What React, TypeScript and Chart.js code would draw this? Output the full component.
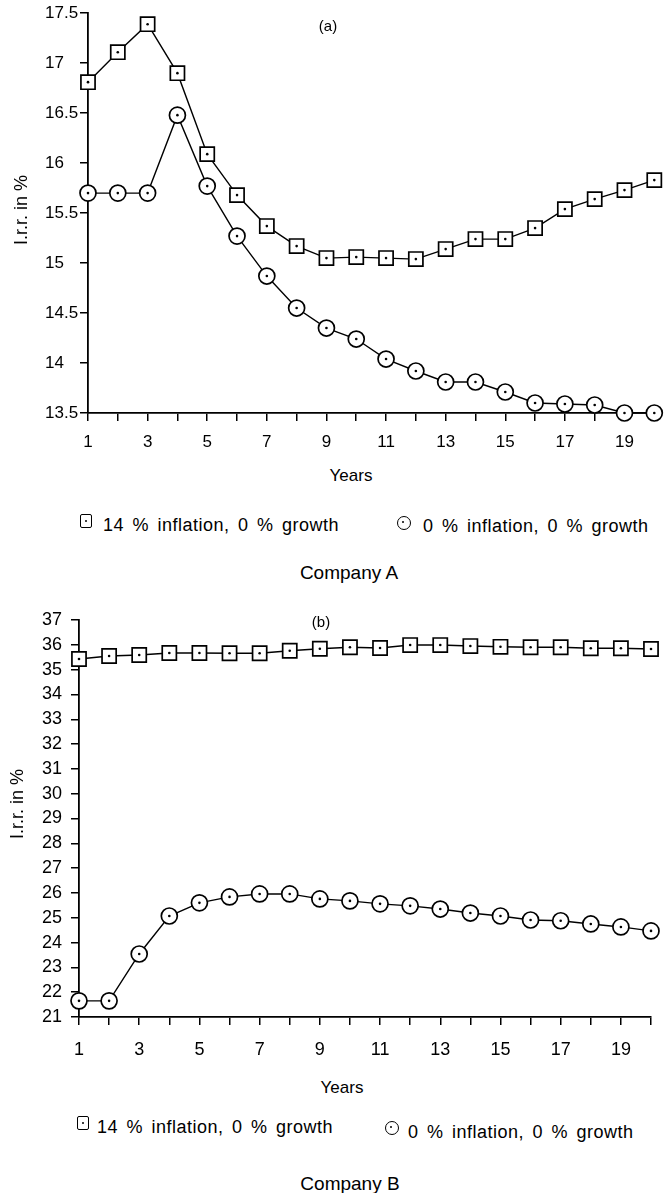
import React, { useEffect, useRef } from 'react';
import { Chart, registerables } from 'chart.js';

Chart.register(...registerables);

// ---------- data ----------
const years = [1, 2, 3, 4, 5, 6, 7, 8, 9, 10, 11, 12, 13, 14, 15, 16, 17, 18, 19, 20];
const xTickLabels = [1, 3, 5, 7, 9, 11, 13, 15, 17, 19];

// Company A (panel a)
const aInflation14 = [16.81, 17.11, 17.39, 16.9, 16.09, 15.68, 15.37, 15.17, 15.05, 15.06, 15.05, 15.04, 15.14, 15.24, 15.24, 15.35, 15.54, 15.64, 15.73, 15.83];
const aInflation0 = [15.7, 15.7, 15.7, 16.48, 15.77, 15.27, 14.87, 14.55, 14.35, 14.24, 14.04, 13.92, 13.81, 13.81, 13.71, 13.6, 13.59, 13.58, 13.5, 13.5];
const yTicksA = [13.5, 14, 14.5, 15, 15.5, 16, 16.5, 17, 17.5];

// Company B (panel b)
const bInflation14 = [35.43, 35.55, 35.59, 35.67, 35.67, 35.66, 35.66, 35.76, 35.84, 35.9, 35.87, 35.99, 35.99, 35.95, 35.92, 35.9, 35.9, 35.86, 35.86, 35.83];
const bInflation0 = [21.65, 21.65, 23.54, 25.07, 25.6, 25.84, 25.96, 25.96, 25.76, 25.68, 25.56, 25.48, 25.35, 25.19, 25.07, 24.91, 24.88, 24.75, 24.63, 24.47];
const yTicksB = [21, 22, 23, 24, 25, 26, 27, 28, 29, 30, 31, 32, 33, 34, 35, 36, 37];

const legendInfl14 = '14 % inflation, 0 % growth';
const legendInfl0 = '0 % inflation, 0 % growth';

const FONT = '"Liberation Sans", Arial, Helvetica, sans-serif';

type PanelParams = {
  infl: number[];
  zero: number[];
  yTicks: number[];
  padLeft: number;
  yWidth: number;
  padTop: number;
  padRight: number;
  xHeight: number;
  tickFont: number;
  xPad: number;
};

function buildConfig(p: PanelParams): any {
  const mk = (vals: number[]) => years.map((x, i) => ({ x, y: vals[i] }));
  const dot = {
    showLine: false,
    pointStyle: 'circle',
    pointRadius: 1.3,
    pointBackgroundColor: '#000',
    pointBorderWidth: 0,
    order: 0,
    clip: false,
  };
  const line = {
    borderColor: '#000',
    borderWidth: 1.4,
    pointBackgroundColor: '#fff',
    pointBorderColor: '#000',
    pointBorderWidth: 1.7,
    order: 1,
    clip: false,
    tension: 0,
    fill: false,
  };
  const grid = { drawOnChartArea: false, drawTicks: true, tickLength: 8, color: '#000', lineWidth: 1.5 };
  const border = { display: true, color: '#000', width: 1.8 };
  return {
    type: 'line',
    data: {
      datasets: [
        { ...dot, data: mk(p.infl) },
        { ...dot, data: mk(p.zero) },
        { ...line, data: mk(p.infl), pointStyle: 'rect', pointRadius: 10 },
        { ...line, data: mk(p.zero), pointStyle: 'circle', pointRadius: 8 },
      ],
    },
    options: {
      responsive: false,
      animation: false,
      events: [],
      layout: { padding: { left: p.padLeft, top: p.padTop, right: p.padRight, bottom: 0 } },
      plugins: { legend: { display: false }, tooltip: { enabled: false }, title: { display: false } },
      scales: {
        x: {
          type: 'linear',
          min: years[0],
          max: years[years.length - 1],
          afterBuildTicks: (s: any) => {
            s.ticks = years.map((v) => ({ value: v }));
          },
          afterFit: (s: any) => {
            s.height = p.xHeight;
          },
          ticks: {
            autoSkip: false,
            maxRotation: 0,
            minRotation: 0,
            padding: p.xPad,
            color: '#000',
            font: { family: FONT, size: p.tickFont },
            callback: (v: any) => (xTickLabels.includes(Number(v)) ? String(v) : ''),
          },
          grid,
          border,
        },
        y: {
          type: 'linear',
          min: p.yTicks[0],
          max: p.yTicks[p.yTicks.length - 1],
          afterBuildTicks: (s: any) => {
            s.ticks = p.yTicks.map((v) => ({ value: v }));
          },
          afterFit: (s: any) => {
            s.width = p.yWidth;
          },
          ticks: {
            crossAlign: 'far',
            padding: 3,
            color: '#000',
            font: { family: FONT, size: p.tickFont },
            callback: (v: any) => String(v),
          },
          grid,
          border,
        },
      },
    },
  };
}

function ChartCanvas({ top, height, params }: { top: number; height: number; params: PanelParams }) {
  const ref = useRef<HTMLCanvasElement | null>(null);
  useEffect(() => {
    if (!ref.current) return;
    const chart = new Chart(ref.current, buildConfig(params));
    return () => chart.destroy();
  }, []);
  return (
    <canvas
      ref={ref}
      width={666}
      height={height}
      style={{ position: 'absolute', left: 0, top, width: 666, height, display: 'block' }}
    />
  );
}

function Txt({
  x,
  y,
  size,
  children,
  anchor = 'center',
  rotate = false,
  ls = 0,
  ws = 0,
}: {
  x: number;
  y: number;
  size: number;
  children: any;
  anchor?: 'center' | 'left';
  rotate?: boolean;
  ls?: number;
  ws?: number;
}) {
  const tx = anchor === 'center' ? '-50%' : '0';
  return (
    <div
      style={{
        position: 'absolute',
        left: x,
        top: y,
        transform: `translate(${tx}, -50%)${rotate ? ' rotate(-90deg)' : ''}`,
        fontFamily: FONT,
        fontSize: size,
        lineHeight: 1,
        whiteSpace: 'nowrap',
        color: '#000',
        letterSpacing: ls,
        wordSpacing: ws,
      }}
    >
      {children}
    </div>
  );
}

function SquareMark({ x, y }: { x: number; y: number }) {
  return (
    <div
      style={{
        position: 'absolute',
        left: x - 6,
        top: y - 7,
        width: 12,
        height: 14,
        boxSizing: 'border-box',
        border: '1.6px solid #000',
        borderRadius: 2,
        background: '#fff',
      }}
    >
      <div style={{ position: 'absolute', left: 4, top: 5, width: 2, height: 2, background: '#000', borderRadius: 1 }} />
    </div>
  );
}

function CircleMark({ x, y }: { x: number; y: number }) {
  return (
    <div
      style={{
        position: 'absolute',
        left: x - 7,
        top: y - 7,
        width: 14,
        height: 14,
        boxSizing: 'border-box',
        border: '1.6px solid #000',
        borderRadius: '50%',
        background: '#fff',
      }}
    >
      <div style={{ position: 'absolute', left: 4.4, top: 4.4, width: 2, height: 2, background: '#000', borderRadius: 1 }} />
    </div>
  );
}

export default function App() {
  const panelA: PanelParams = {
    infl: aInflation14,
    zero: aInflation0,
    yTicks: yTicksA,
    padLeft: 45,
    yWidth: 43,
    padTop: 13,
    padRight: 11,
    xHeight: 47,
    tickFont: 17,
    xPad: 11,
  };
  const panelB: PanelParams = {
    infl: bInflation14,
    zero: bInflation0,
    yTicks: yTicksB,
    padLeft: 42,
    yWidth: 37,
    padTop: 30,
    padRight: 15,
    xHeight: 53,
    tickFont: 18,
    xPad: 14,
  };
  return (
    <div
      style={{
        position: 'absolute',
        left: 0,
        top: 0,
        width: 666,
        height: 1193,
        background: '#fff',
        overflow: 'hidden',
      }}
    >
      <ChartCanvas top={0} height={460} params={panelA} />
      <ChartCanvas top={590} height={480} params={panelB} />

      {/* Panel (a) texts */}
      <Txt x={328} y={25} size={15}>(a)</Txt>
      <Txt x={21} y={210} size={18} rotate>I.r.r. in %</Txt>
      <Txt x={351} y={475} size={17}>Years</Txt>
      <SquareMark x={86} y={521} />
      <Txt x={103} y={525} size={18} anchor="left" ls={0.5} ws={3}>{legendInfl14}</Txt>
      <CircleMark x={404} y={523} />
      <Txt x={423} y={526} size={18} anchor="left" ls={0.5} ws={3}>{legendInfl0}</Txt>
      <Txt x={349} y={572} size={19}>Company A</Txt>

      {/* Panel (b) texts */}
      <Txt x={321} y={621} size={15}>(b)</Txt>
      <Txt x={17} y={804} size={18} rotate>I.r.r. in %</Txt>
      <Txt x={342} y={1087} size={17}>Years</Txt>
      <SquareMark x={83} y={1123} />
      <Txt x={97} y={1127} size={18} anchor="left" ls={0.5} ws={3}>{legendInfl14}</Txt>
      <CircleMark x={392} y={1128} />
      <Txt x={408} y={1132} size={18} anchor="left" ls={0.5} ws={3}>{legendInfl0}</Txt>
      <Txt x={350} y={1183} size={19}>Company B</Txt>
    </div>
  );
}
